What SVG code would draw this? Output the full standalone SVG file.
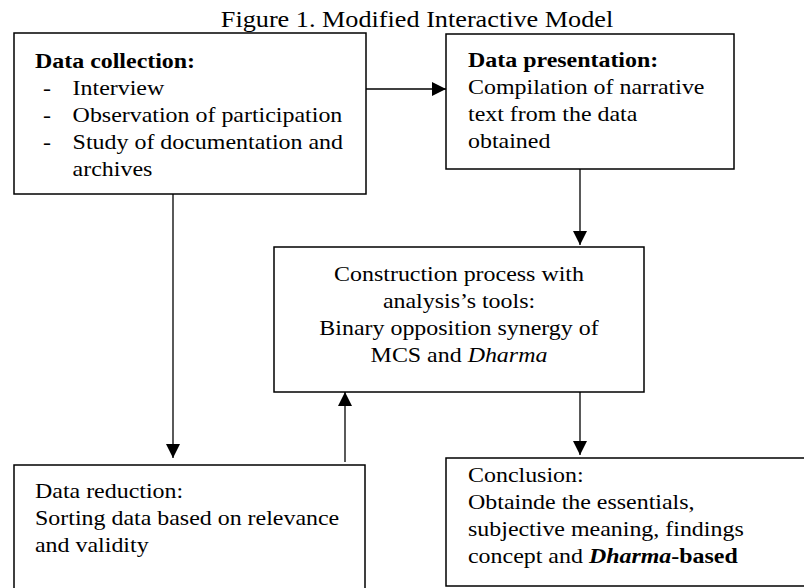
<svg xmlns="http://www.w3.org/2000/svg" width="804" height="588" viewBox="0 0 804 588">
<style>
text{font-family:"Liberation Serif","Times New Roman",serif;font-size:21px;fill:#000}
.title{font-size:23px}
.b{font-weight:bold}
.i{font-style:italic}
.box{fill:#fff;stroke:#000;stroke-width:1.5}
.conn line{stroke:#000;stroke-width:1.3}
</style>
<defs>
<marker id="ah" viewBox="0 0 14 14" refX="14" refY="7" markerWidth="14" markerHeight="14" markerUnits="userSpaceOnUse" orient="auto">
<path d="M0,0 L14,7 L0,14 Z" fill="#000"/>
</marker>
</defs>
<rect width="804" height="588" fill="#fff"/>
<g id="title" transform="translate(417 27) scale(1.14 1)">
<text class="title" x="0" y="0" text-anchor="middle">Figure 1. Modified Interactive Model</text>
</g>
<g class="conn" id="connectors">
<line x1="366" y1="89" x2="446" y2="89" marker-end="url(#ah)"/>
<line x1="580" y1="169" x2="580" y2="245" marker-end="url(#ah)"/>
<line x1="173" y1="194" x2="173" y2="458" marker-end="url(#ah)"/>
<line x1="345" y1="462" x2="345" y2="392" marker-end="url(#ah)"/>
<line x1="580" y1="392" x2="580" y2="455" marker-end="url(#ah)"/>
</g>
<g id="collection">
<rect class="box" x="14" y="33" width="352" height="161"/>
<g transform="translate(35 0) scale(1.14 1)">
<text class="b" x="0" y="68">Data collection:</text>
<text x="7" y="95">-</text>
<text x="7" y="122">-</text>
<text x="7" y="149">-</text>
<text x="33" y="95">Interview</text>
<text x="33" y="122">Observation of participation</text>
<text x="33" y="149">Study of documentation and</text>
<text x="33" y="176">archives</text>
</g>
</g>
<g id="presentation">
<rect class="box" x="446" y="34" width="288" height="135"/>
<g transform="translate(468 0) scale(1.14 1)">
<text class="b" x="0" y="67">Data presentation:</text>
<text x="0" y="94">Compilation of narrative</text>
<text x="0" y="121">text from the data</text>
<text x="0" y="148">obtained</text>
</g>
</g>
<g id="construction">
<rect class="box" x="274" y="247" width="370" height="145"/>
<g transform="translate(459 0) scale(1.14 1)" text-anchor="middle">
<text x="0" y="281">Construction process with</text>
<text x="0" y="308">analysis’s tools:</text>
<text x="0" y="335">Binary opposition synergy of</text>
<text x="0" y="362">MCS and <tspan class="i">Dharma</tspan></text>
</g>
</g>
<g id="reduction">
<rect class="box" x="14" y="465" width="351" height="140"/>
<g transform="translate(35 0) scale(1.14 1)">
<text x="0" y="498">Data reduction:</text>
<text x="0" y="525">Sorting data based on relevance</text>
<text x="0" y="552">and validity</text>
</g>
</g>
<g id="conclusion">
<rect class="box" x="446" y="458" width="370" height="128"/>
<g transform="translate(468 0) scale(1.14 1)">
<text x="0" y="482">Conclusion:</text>
<text x="0" y="509">Obtainde the essentials,</text>
<text x="0" y="536">subjective meaning, findings</text>
<text x="0" y="563">concept and <tspan class="b i">Dharma</tspan><tspan class="b">-based</tspan></text>
</g>
</g>
</svg>
